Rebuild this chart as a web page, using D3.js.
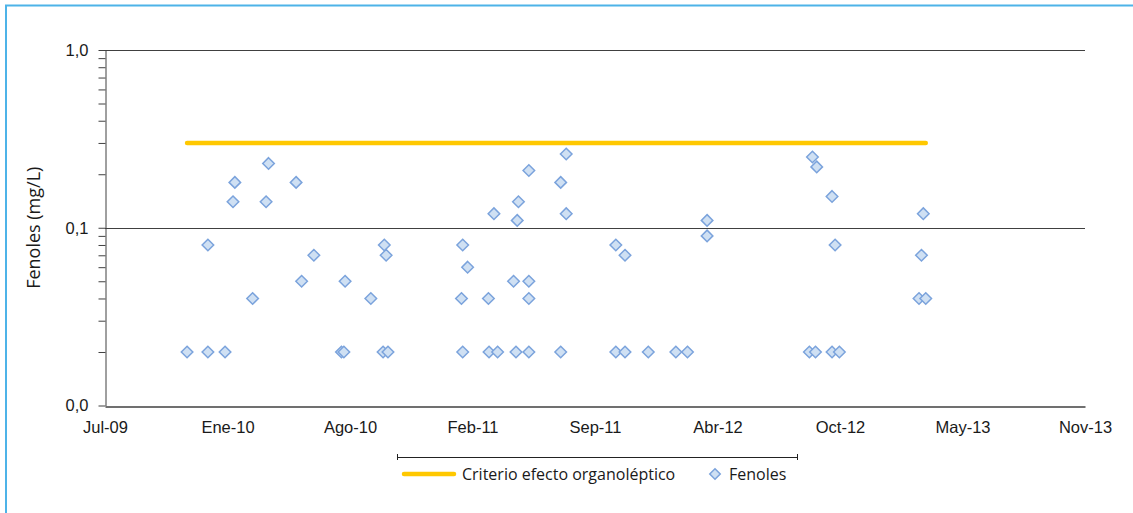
<!DOCTYPE html>
<html>
<head>
<meta charset="utf-8">
<script src="https://cdn.jsdelivr.net/npm/d3@7"></script>
<style>
  body { margin: 0; background: #fff; }
  svg { display: block; font-family: "Open Sans", Lato, sans-serif; }
</style>
</head>
<body>
<div id="chart"></div>
<script>
// muestras de fenoles (fecha, mg/L)
const sampleDates = [
  "2009-11-17", "2009-12-21", "2009-12-21", "2010-01-18", "2010-01-31", "2010-02-03",
  "2010-03-04", "2010-03-26", "2010-03-30", "2010-05-14", "2010-05-23", "2010-06-12",
  "2010-07-27", "2010-07-31", "2010-08-02", "2010-09-13", "2010-10-03", "2010-10-05",
  "2010-10-08", "2010-10-11", "2011-02-08", "2011-02-10", "2011-02-10", "2011-02-18",
  "2011-03-24", "2011-03-25", "2011-04-02", "2011-04-08", "2011-05-04", "2011-05-08",
  "2011-05-10", "2011-05-12", "2011-05-29", "2011-05-29", "2011-05-29", "2011-05-29",
  "2011-07-20", "2011-07-20", "2011-07-29", "2011-07-29", "2011-10-18", "2011-10-18",
  "2011-11-02", "2011-11-02", "2011-12-10", "2012-01-24", "2012-02-12", "2012-03-15",
  "2012-03-15", "2012-08-29", "2012-09-03", "2012-09-08", "2012-09-10", "2012-10-05",
  "2012-10-05", "2012-10-10", "2012-10-17", "2013-02-24", "2013-02-28", "2013-03-03",
  "2013-03-07"
];
const fenoles = [
  0.02, 0.02, 0.08, 0.02, 0.14, 0.18,
  0.04, 0.14, 0.23, 0.18, 0.05, 0.07,
  0.02, 0.02, 0.05, 0.04, 0.02, 0.08,
  0.07, 0.02, 0.04, 0.08, 0.02, 0.06,
  0.04, 0.02, 0.12, 0.02, 0.05, 0.02,
  0.11, 0.14, 0.21, 0.05, 0.04, 0.02,
  0.18, 0.02, 0.26, 0.12, 0.08, 0.02,
  0.07, 0.02, 0.02, 0.02, 0.02, 0.11,
  0.09, 0.02, 0.25, 0.02, 0.22, 0.15,
  0.02, 0.08, 0.02, 0.04, 0.07, 0.12,
  0.04
];

// criterio efecto organoléptico
const criterioDates = ["2009-11-17", "2013-03-07"];
const criterioValues = [0.3, 0.3];

// ejes
const xDomain = ["2009-07-06", "2013-11-22"];
const xTickDates = ["2009-07-06", "2010-01-22", "2010-08-10", "2011-02-26", "2011-09-14",
  "2012-04-01", "2012-10-18", "2013-05-06", "2013-11-22"];
const xTickLabels = ["Jul-09", "Ene-10", "Ago-10", "Feb-11", "Sep-11", "Abr-12", "Oct-12", "May-13", "Nov-13"];
const yTickValues = [0.01, 0.1, 1];
const yTickLabels = ["0,0", "0,1", "1,0"];

const parse = d3.utcParse("%Y-%m-%d");
const points = sampleDates.map((d, i) => ({ date: parse(d), value: fenoles[i] }));
const criterio = criterioDates.map((d, i) => ({ date: parse(d), value: criterioValues[i] }));

const width = 1133, height = 513;
const plot = { left: 105, right: 1085, top: 50, bottom: 405.5 };

const svg = d3.select("#chart").append("svg")
  .attr("width", width)
  .attr("height", height);

// marco
svg.append("path")
  .attr("d", `M6,${height} V5.5 H${width}`)
  .attr("fill", "none")
  .attr("stroke", "#4db3e8")
  .attr("stroke-width", 2);

const x = d3.scaleUtc()
  .domain(xDomain.map(parse))
  .range([plot.left, plot.right]);

const y = d3.scaleLog()
  .domain([0.01, 1])
  .range([plot.bottom, plot.top]);

// lineas de cuadricula
svg.append("g")
  .selectAll("line")
  .data([0.1, 1])
  .enter().append("line")
  .attr("x1", plot.left)
  .attr("x2", plot.right)
  .attr("y1", d => Math.round(y(d)) + 0.5)
  .attr("y2", d => Math.round(y(d)) + 0.5)
  .attr("stroke", "#404040")
  .attr("stroke-width", 1);

// eje y con marcas menores
const minorTicks = y.ticks().filter(d => !yTickValues.some(v => Math.abs(v - d) < 1e-9));
svg.append("g")
  .attr("transform", `translate(${plot.left + 0.5},0)`)
  .call(d3.axisLeft(y).tickValues(minorTicks).tickSize(7).tickFormat(""))
  .call(g => g.select(".domain").remove())
  .selectAll("line").attr("stroke", "#404040");

const yAxis = svg.append("g")
  .attr("transform", `translate(${plot.left + 0.5},0)`)
  .call(d3.axisLeft(y).tickValues(yTickValues).tickSize(7).tickSizeOuter(0)
    .tickFormat((d, i) => yTickLabels[i]));
yAxis.select(".domain").attr("stroke", "#404040");
yAxis.selectAll("line").attr("stroke", "#404040");
yAxis.selectAll("text")
  .attr("x", -17)
  .attr("fill", "#1a1a1a")
  .style("font-size", "16.5px");

// eje x
const xAxis = svg.append("g")
  .attr("transform", `translate(0,${Math.round(plot.bottom) + 0.5})`)
  .call(d3.axisBottom(x).tickValues(xTickDates.map(parse)).tickSize(0).tickSizeOuter(0)
    .tickFormat((d, i) => xTickLabels[i]));
xAxis.select(".domain").attr("stroke", "#404040").attr("stroke-width", 1.5);
xAxis.selectAll("text")
  .attr("dy", "1.45em")
  .attr("fill", "#1a1a1a")
  .style("font-size", "16.5px");

// titulo eje y
svg.append("text")
  .attr("transform", `translate(40,${(plot.top + plot.bottom) / 2}) rotate(-90)`)
  .attr("text-anchor", "middle")
  .attr("fill", "#1a1a1a")
  .style("font-size", "18px")
  .text("Fenoles (mg/L)");

// linea criterio
const line = d3.line()
  .x(d => x(d.date))
  .y(d => y(d.value));

svg.append("path")
  .datum(criterio)
  .attr("d", line)
  .attr("fill", "none")
  .attr("stroke", "#ffc800")
  .attr("stroke-width", 4.5)
  .attr("stroke-linecap", "round");

// puntos fenoles
const diamond = d3.symbol().type(d3.symbolDiamond2).size(85);
svg.append("g")
  .selectAll("path")
  .data(points)
  .enter().append("path")
  .attr("transform", d => `translate(${x(d.date)},${y(d.value)})`)
  .attr("d", diamond)
  .attr("fill", "#cfe0f3")
  .attr("stroke", "#7ba3dc")
  .attr("stroke-width", 1.5);

// leyenda
const legend = svg.append("g");
legend.append("path")
  .attr("d", "M397.5,454 V460 M397.5,457.5 H797.5 M797.5,454 V460")
  .attr("fill", "none")
  .attr("stroke", "#222")
  .attr("stroke-width", 1);

legend.append("line")
  .attr("x1", 404).attr("x2", 454)
  .attr("y1", 474).attr("y2", 474)
  .attr("stroke", "#ffc800")
  .attr("stroke-width", 4.5)
  .attr("stroke-linecap", "round");

legend.append("text")
  .attr("x", 462).attr("y", 479.5)
  .attr("fill", "#1a1a1a")
  .style("font-size", "16px")
  .text("Criterio efecto organoléptico");

legend.append("path")
  .attr("transform", "translate(715,474)")
  .attr("d", d3.symbol().type(d3.symbolDiamond2).size(70))
  .attr("fill", "#cfe0f3")
  .attr("stroke", "#7ba3dc")
  .attr("stroke-width", 1.5);

legend.append("text")
  .attr("x", 729).attr("y", 479.5)
  .attr("fill", "#1a1a1a")
  .style("font-size", "16px")
  .text("Fenoles");
</script>
</body>
</html>
